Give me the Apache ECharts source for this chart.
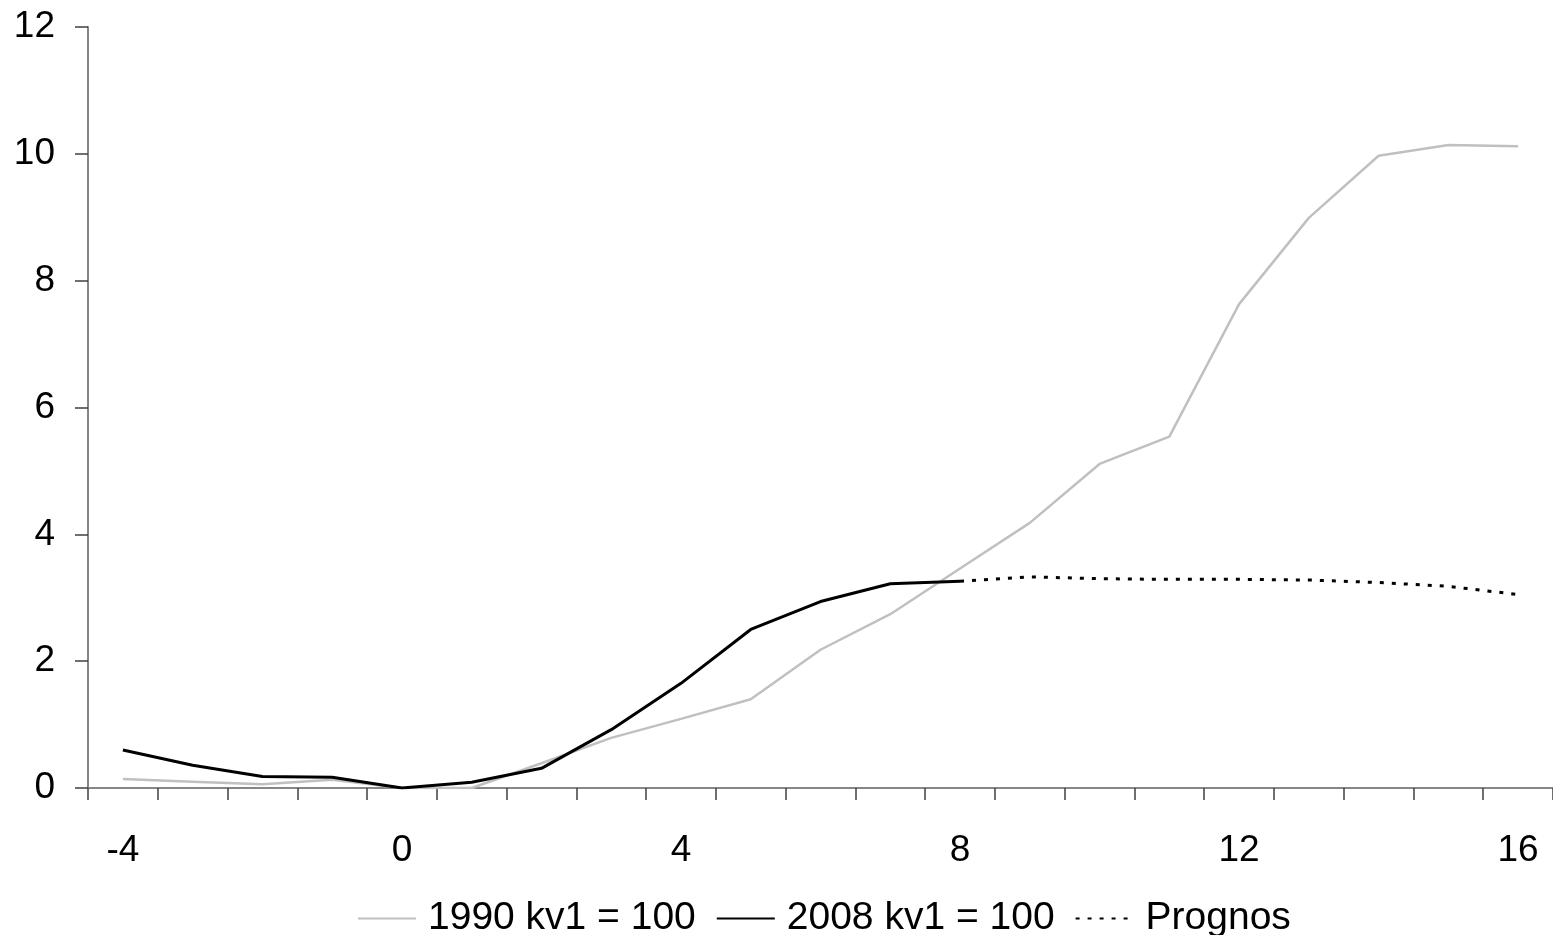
<!DOCTYPE html>
<html>
<head>
<meta charset="utf-8">
<script src="https://cdn.jsdelivr.net/npm/echarts@6/dist/echarts.min.js"></script>
<style>
html,body{margin:0;padding:0;background:#fff;}
#c{width:1553px;height:935px;}
</style>
</head>
<body>
<div id="c"></div>
<script>
var categories = ['-4','-3','-2','-1','0','1','2','3','4','5','6','7','8','9','10','11','12','13','14','15','16'];
var series1990 = [0.14,0.10,0.06,0.13,0.00,0.00,0.39,0.79,1.09,1.40,2.18,2.74,3.46,4.18,5.11,5.54,7.63,8.99,9.97,10.14,10.12];
var series2008 = [0.60,0.36,0.18,0.17,0.00,0.09,0.31,0.92,1.65,2.50,2.94,3.22,3.26,null,null,null,null,null,null,null,null];
var seriesPrognos = [null,null,null,null,null,null,null,null,null,null,null,null,3.26,3.33,3.30,3.29,3.29,3.28,3.24,3.18,3.05];
var yTicks = [0,2,4,6,8,10,12];
var names = ['1990 kv1 = 100','2008 kv1 = 100','Prognos'];

var font = 'Liberation Sans, Arial, sans-serif';
var chart = echarts.init(document.getElementById('c'));
chart.setOption({
  animation: false,
  backgroundColor: '#ffffff',
  grid: {left: 88, right: -5, top: 27, bottom: 147, containLabel: false},
  legend: {
    left: 352, top: 894,
    itemWidth: 58, itemHeight: 14, itemGap: 20,
    itemStyle: {opacity: 0},
    textStyle: {fontFamily: font, fontSize: 39, color: '#000', padding: [0,0,0,7]},
    data: names
  },
  xAxis: {
    type: 'category',
    data: categories,
    boundaryGap: true,
    axisLine: {lineStyle: {color: '#868686', width: 2}},
    axisTick: {show: true, interval: 0, length: 12, lineStyle: {color: '#404040', width: 1.5}},
    axisLabel: {interval: 3, margin: 44, fontFamily: font, fontSize: 37, color: '#000'},
    splitLine: {show: false}
  },
  yAxis: {
    type: 'value',
    min: yTicks[0], max: yTicks[yTicks.length-1], interval: 2,
    axisLine: {show: true, lineStyle: {color: '#868686', width: 2}},
    axisTick: {show: true, inside: false, length: 13, lineStyle: {color: '#404040', width: 1.5}},
    axisLabel: {margin: 33, fontFamily: font, fontSize: 37, color: '#000'},
    splitLine: {show: false}
  },
  series: [
    {name: names[0], type: 'line', data: series1990, symbol: 'none', z: 2,
     lineStyle: {color: '#c0c0c0', width: 2.5}, itemStyle: {color: '#c0c0c0'}},
    {name: names[1], type: 'line', data: series2008, symbol: 'none', z: 3,
     lineStyle: {color: '#000000', width: 3}, itemStyle: {color: '#000000'}},
    {name: names[2], type: 'line', data: seriesPrognos, symbol: 'none', z: 3,
     lineStyle: {color: '#000000', width: 3, type: [4, 8]}, itemStyle: {color: '#000000'}}
  ]
});
</script>
</body>
</html>
